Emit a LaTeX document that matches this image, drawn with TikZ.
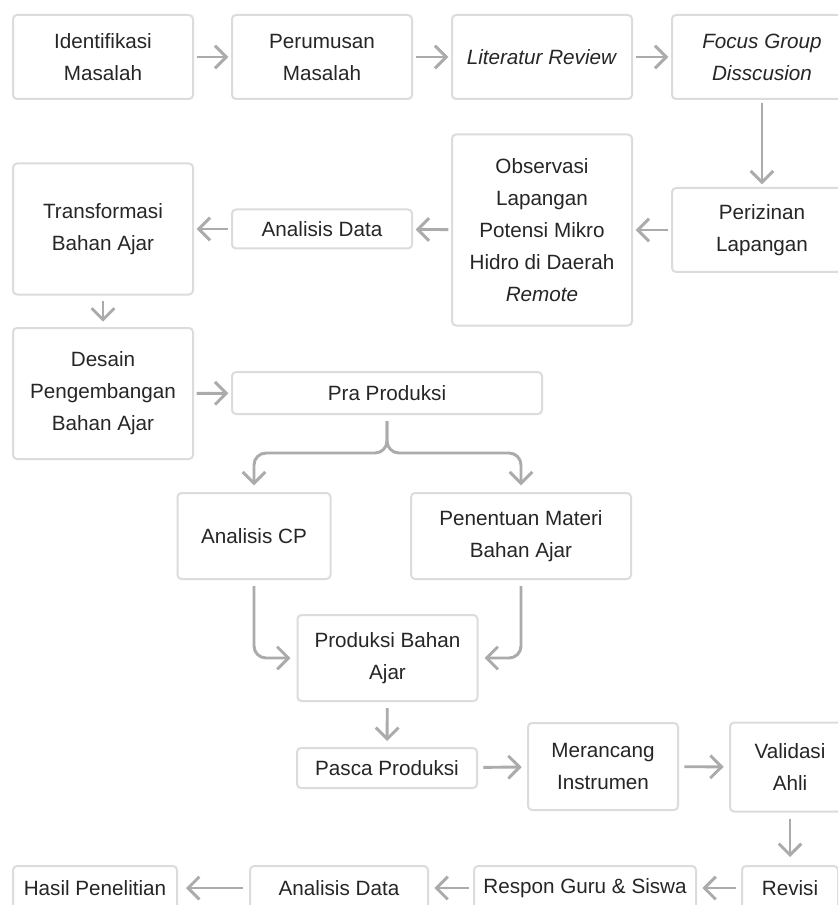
\documentclass[tikz,border=0pt]{standalone}
\usepackage{fontspec}
\setmainfont{Liberation Sans}
\usetikzlibrary{arrows.meta}
\definecolor{boxline}{HTML}{DCDCDC}
\definecolor{flowline}{HTML}{ABABAB}
\definecolor{textdark}{HTML}{262626}
\tikzset{
  stepbox/.style={draw=boxline, line width=1.5pt, rounded corners=3pt, fill=white,
    text=textdark, align=center, inner sep=0pt,
    font=\fontsize{15.5}{24}\selectfont},
  flow/.style={draw=flowline, line width=2.2pt,
    -{Straight Barb[length=8.5pt, width=17pt]},
    shorten <=2pt, shorten >=2pt}
}
\begin{document}
\begin{tikzpicture}[x=0.75pt, y=-0.75pt]
    \useasboundingbox (0,0) rectangle (838,905);
    \fill [white] (0,0) rectangle (838,905);
    \clip (0,0) rectangle (838,905);
    \node [stepbox, minimum width=135pt, minimum height=63pt] (ident) at (103,57) {Identifikasi\\Masalah};
    \node [stepbox, minimum width=135pt, minimum height=63pt] (perum) at (322,57) {Perumusan\\Masalah};
    \node [stepbox, minimum width=135pt, minimum height=63pt] (lit) at (542,57) {\textit{Literatur Review}};
    \node [stepbox, minimum width=135pt, minimum height=63pt] (fgd) at (762,57) {\textit{Focus Group}\\\textit{Disscusion}};
    \node [stepbox, minimum width=135pt, minimum height=63pt] (izin) at (762,230) {Perizinan\\Lapangan};
    \node [stepbox, minimum width=135pt, minimum height=143.25pt] (obs) at (542,230) {Observasi\\Lapangan\\Potensi Mikro\\Hidro di Daerah\\\textit{Remote}};
    \node [stepbox, minimum width=135pt, minimum height=29.25pt] (data1) at (322,229) {Analisis Data};
    \node [stepbox, minimum width=135pt, minimum height=98.25pt] (trans) at (103,229) {Transformasi\\Bahan Ajar};
    \node [stepbox, minimum width=135pt, minimum height=98.25pt] (desain) at (103,393.5) {Desain\\Pengembangan\\Bahan Ajar};
    \node [stepbox, minimum width=232.5pt, minimum height=31.5pt] (pra) at (387,393) {Pra Produksi};
    \node [stepbox, minimum width=114.75pt, minimum height=64.5pt] (cp) at (254,536) {Analisis CP};
    \node [stepbox, minimum width=165pt, minimum height=64.5pt] (materi) at (521,536) {Penentuan Materi\\Bahan Ajar};
    \node [stepbox, minimum width=135pt, minimum height=64.5pt] (prod) at (387.5,658) {Produksi Bahan\\Ajar};
    \node [stepbox, minimum width=135pt, minimum height=30pt] (pasca) at (387,768) {Pasca Produksi};
    \node [stepbox, minimum width=112.5pt, minimum height=65.25pt] (instr) at (603,766.5) {Merancang\\Instrumen};
    \node [stepbox, minimum width=90pt, minimum height=66.75pt] (valid) at (790,767) {Validasi\\Ahli};
    \node [stepbox, minimum width=72pt, minimum height=33pt] (revisi) at (790,888) {Revisi};
    \node [stepbox, minimum width=166.5pt, minimum height=33pt] (respon) at (585,888) {Respon Guru \& Siswa};
    \node [stepbox, minimum width=133.5pt, minimum height=33pt] (data2) at (339,888) {Analisis Data};
    \node [stepbox, minimum width=123pt, minimum height=33pt] (hasil) at (95,888) {Hasil Penelitian};
    \coordinate (split) at (388,453);
    \draw [flow] (ident) -- (perum);
    \draw [flow] (perum) -- (lit);
    \draw [flow] (lit) -- (fgd);
    \draw [flow] (fgd) -- (izin);
    \draw [flow] (izin) -- (obs);
    \draw [flow] (obs) -- (data1);
    \draw [flow] (data1) -- (trans);
    \draw [flow, shorten <=4pt, shorten >=4pt] (trans) -- (desain);
    \draw [flow] (desain) -- (pra);
    \draw [flow, rounded corners=9pt, shorten <=4.5pt, shorten >=5pt] (pra.south) |- (cp.north |- split) -- (cp.north);
    \draw [flow, rounded corners=9pt, shorten <=4.5pt, shorten >=5pt] (pra.south) |- (materi.north |- split) -- (materi.north);
    \draw [flow, rounded corners=9pt, shorten <=4.5pt, shorten >=4.5pt] (cp.south) |- (prod.west);
    \draw [flow, rounded corners=9pt, shorten <=4.5pt, shorten >=4.5pt] (materi.south) |- (prod.east);
    \draw [flow, shorten <=4.5pt, shorten >=4.5pt] (prod) -- (pasca);
    \draw [flow, shorten <=4pt, shorten >=4pt] (pasca) -- (instr);
    \draw [flow, shorten <=4pt, shorten >=4pt] (instr) -- (valid);
    \draw [flow, shorten <=4.5pt, shorten >=6pt] (valid) -- (revisi);
    \draw [flow, shorten <=4pt, shorten >=4pt] (revisi) -- (respon);
    \draw [flow, shorten <=3pt, shorten >=4pt] (respon) -- (data2);
    \draw [flow, shorten <=4.5pt, shorten >=6pt] (data2) -- (hasil);
\end{tikzpicture}
\end{document}
